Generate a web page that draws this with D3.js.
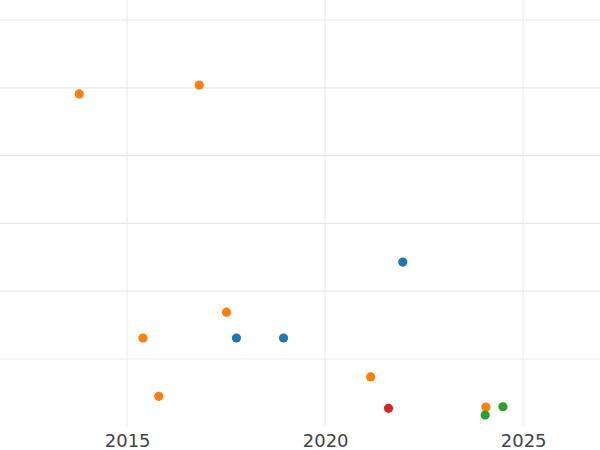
<!DOCTYPE html>
<html>
<head>
<meta charset="utf-8">
<script src="https://cdn.jsdelivr.net/npm/d3@7"></script>
<style>
  html, body { margin: 0; padding: 0; background: #fff; }
  svg { display: block; }
</style>
</head>
<body>
<svg id="chart" width="600" height="450"></svg>
<script>
// ---- data ----
const years  = [2013.79, 2016.82, 2015.40, 2015.80, 2017.51, 2017.76, 2018.95, 2021.96, 2021.15, 2021.60, 2024.06, 2024.04, 2024.49];
const values = [49.1,    50.4,    13.1,    4.5,     16.9,    13.1,    13.1,    24.3,    7.35,    2.73,    2.92,    1.74,    2.96];
const groups = ["B",     "B",     "B",     "B",     "B",     "A",     "A",     "A",     "B",     "D",     "B",     "C",     "C"];
const groupNames = ["A", "B", "C", "D"];
const xTickValues = [2015, 2020, 2025];
const yGridValues = [10, 20, 30, 40, 50, 60];

// ---- layout ----
const W = 600, H = 450;
const plotBottom = 426.8;
const svg = d3.select("#chart");

const x = d3.scaleLinear().domain([2011.79, 2026.94]).range([0, W]);
const y = d3.scaleLinear().domain([0, 62.95]).range([plotBottom, 0]);
const color = d3.scaleOrdinal().domain(groupNames)
  .range(["#1f77b4", "#ff7f0e", "#2ca02c", "#d62728"]);

// horizontal grid
svg.append("g")
  .selectAll("line").data(yGridValues).join("line")
  .attr("x1", 0).attr("x2", W)
  .attr("y1", d => y(d)).attr("y2", d => y(d))
  .attr("stroke", "#e8e8e8").attr("stroke-width", 1.2);

// vertical grid
svg.append("g")
  .selectAll("line").data(xTickValues).join("line")
  .attr("x1", d => x(d)).attr("x2", d => x(d))
  .attr("y1", 0).attr("y2", plotBottom)
  .attr("stroke", "#ebebeb").attr("stroke-width", 1);

// x axis labels
const xAxis = d3.axisBottom(x).tickValues(xTickValues).tickFormat(d3.format("d"))
  .tickSize(0).tickPadding(7.1);
const gx = svg.append("g").attr("transform", `translate(0,${plotBottom})`).call(xAxis);
gx.select(".domain").remove();
gx.selectAll("text")
  .attr("font-family", "DejaVu Sans, sans-serif")
  .attr("font-size", 18)
  .attr("fill", "#444");

// points
const pts = years.map((yr, i) => ({ yr, v: values[i], g: groups[i] }));
svg.append("g")
  .selectAll("circle").data(pts).join("circle")
  .attr("cx", d => x(d.yr))
  .attr("cy", d => y(d.v))
  .attr("r", 4.6)
  .attr("fill", d => color(d.g));
</script>
</body>
</html>
